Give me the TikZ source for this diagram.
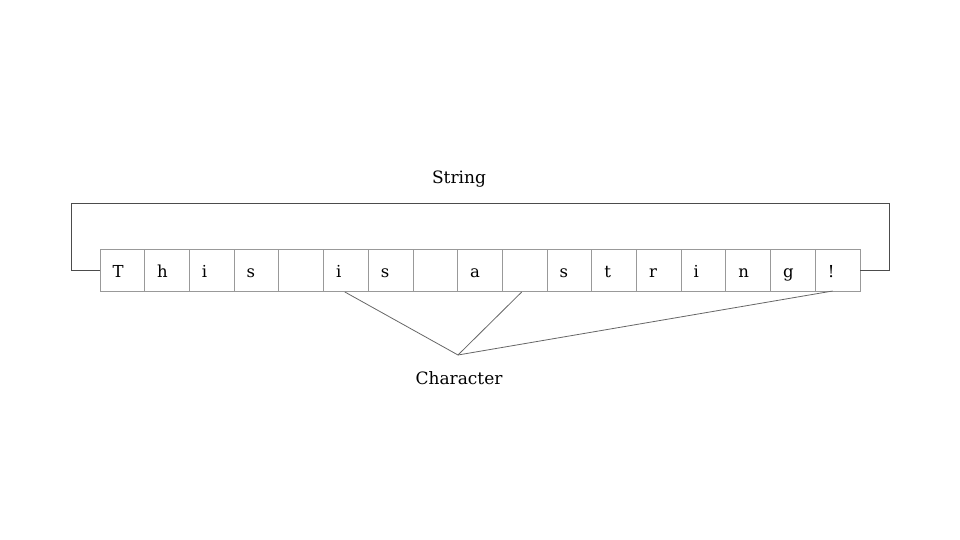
\documentclass[tikz,border=0pt]{standalone}
\usepackage{fontspec}
\setmainfont{DejaVu Serif}
\begin{document}
\begin{tikzpicture}[x=1pt,y=-1pt,
  cell/.style={draw=black!40, line width=0.8pt, minimum width=44.7pt, minimum height=42pt, inner sep=0pt, outer sep=0pt, anchor=north west},
  glyph/.style={font=\fontsize{16.5}{19}\selectfont, anchor=base west},
  label/.style={font=\fontsize{17}{20}\selectfont},
  bracket/.style={draw=black!70, line width=0.9pt},
  pointer/.style={draw=black!60, line width=0.8pt}]
\useasboundingbox (0,0) rectangle (960,540);
\foreach \i/\t in {1/T,2/h,3/i,4/s,5/{},6/i,7/s,8/{},9/a,10/{},11/s,12/t,13/r,14/i,15/n,16/g,17/!}{
  \node[cell] (c\i) at ({100+(\i-1)*44.706},249) {};
  \node[glyph] (t\i) at ({100+(\i-1)*44.706+9},277.5) {\t};
}
\node[label] (str) at (459,179) {String};
\node[label] (chr) at (459,378) {Character};
\coordinate (apex) at (458,355);
\coordinate (lt) at (71,203.5);
\coordinate (rt) at (889,203.5);
\draw[bracket] (c1.west) -- (c1.west -| lt) -- (lt) -- (rt) -- (rt |- c17.east) -- (c17.east);
\draw[pointer] (c6.south) ++(-1,1) -- (apex);
\draw[pointer] (c10.south) ++(-3,1) -- (apex);
\draw[pointer] (c17.south) ++(-5,0) -- (apex);
\end{tikzpicture}
\end{document}
